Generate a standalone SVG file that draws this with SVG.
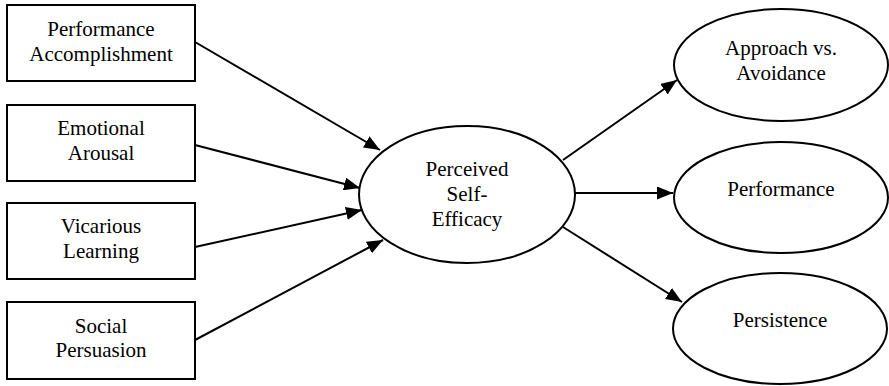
<svg xmlns="http://www.w3.org/2000/svg" width="889" height="386" viewBox="0 0 889 386">
<style>
.box{fill:#fff;stroke:#000;stroke-width:2}
.ell{fill:#fff;stroke:#000;stroke-width:2}
.t{font-family:"Liberation Serif","Times New Roman",serif;font-size:21px;fill:#000;text-anchor:middle}
.c{stroke:#000;stroke-width:2;fill:none;marker-end:url(#ah)}
</style>
<defs>
<marker id="ah" markerUnits="userSpaceOnUse" markerWidth="17" markerHeight="13" refX="16" refY="6.5" orient="auto">
<path d="M0,0 L16,6.5 L0,13 z" fill="#000"/>
</marker>
</defs>
<rect width="889" height="386" fill="#fff"/>
<g id="connectors">
<line class="c" x1="195" y1="42" x2="380" y2="150"/>
<line class="c" x1="195" y1="145" x2="360" y2="188"/>
<line class="c" x1="195" y1="247" x2="362" y2="210"/>
<line class="c" x1="195" y1="340" x2="383" y2="240"/>
<line class="c" x1="563" y1="160" x2="677" y2="80"/>
<line class="c" x1="575" y1="193" x2="673" y2="193"/>
<line class="c" x1="563" y1="227" x2="682" y2="302"/>
</g>
<g id="performance-accomplishment">
<rect class="box" x="7" y="5" width="188" height="76"/>
<text class="t" x="101" y="36">Performance</text>
<text class="t" x="101" y="61">Accomplishment</text>
</g>
<g id="emotional-arousal">
<rect class="box" x="7" y="105" width="188" height="76"/>
<text class="t" x="101" y="135">Emotional</text>
<text class="t" x="101" y="160">Arousal</text>
</g>
<g id="vicarious-learning">
<rect class="box" x="7" y="203" width="188" height="76"/>
<text class="t" x="101" y="233">Vicarious</text>
<text class="t" x="101" y="258">Learning</text>
</g>
<g id="social-persuasion">
<rect class="box" x="7" y="302" width="188" height="77"/>
<text class="t" x="101" y="333">Social</text>
<text class="t" x="101" y="357">Persuasion</text>
</g>
<g id="perceived-self-efficacy">
<ellipse class="ell" cx="467" cy="194.5" rx="108" ry="68.5"/>
<text class="t" x="467" y="176">Perceived</text>
<text class="t" x="467" y="201">Self-</text>
<text class="t" x="467" y="226">Efficacy</text>
</g>
<g id="approach-avoidance">
<ellipse class="ell" cx="781" cy="65" rx="107" ry="56"/>
<text class="t" x="781" y="55">Approach vs.</text>
<text class="t" x="781" y="80">Avoidance</text>
</g>
<g id="performance">
<ellipse class="ell" cx="781" cy="197.5" rx="107" ry="55.5"/>
<text class="t" x="781" y="196">Performance</text>
</g>
<g id="persistence">
<ellipse class="ell" cx="780" cy="328.5" rx="107" ry="55.5"/>
<text class="t" x="780" y="327">Persistence</text>
</g>
</svg>
